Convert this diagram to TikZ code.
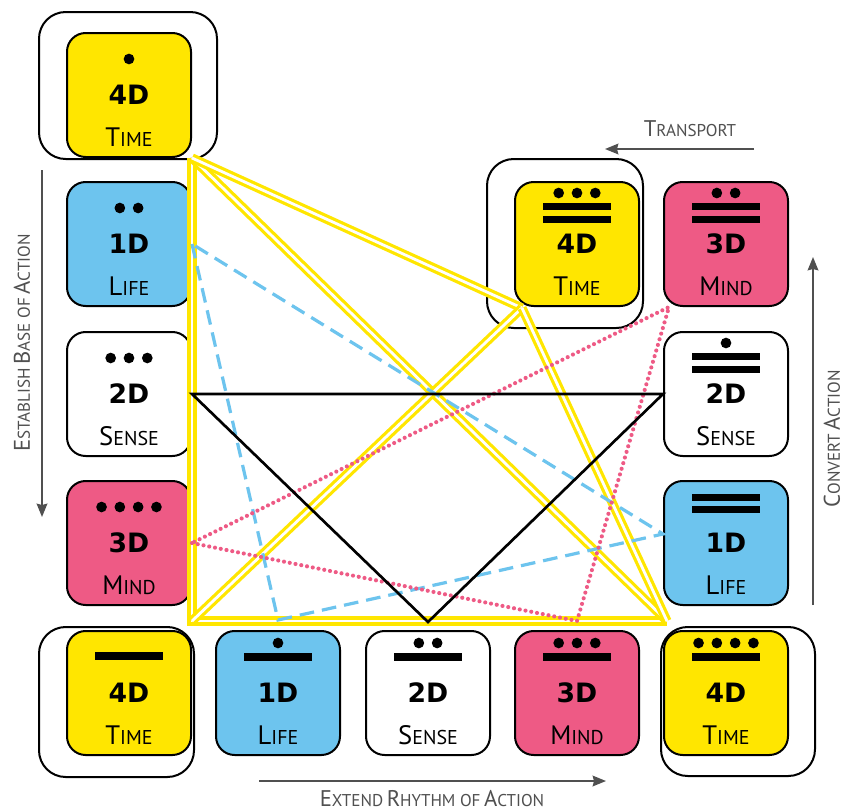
\documentclass[tikz,border=0pt]{standalone}
\usepackage{fontspec}
\setmainfont{PT Sans}
\newfontfamily\dimfont{DejaVu Sans}
\usetikzlibrary{calc,arrows.meta}
\definecolor{yel}{HTML}{FFE600}
\definecolor{blu}{HTML}{6DC4EE}
\definecolor{pnk}{HTML}{EE5A85}
\definecolor{gry}{HTML}{505050}
\newcommand\tsc[2]{{\fontsize{20}{20}\selectfont #1}{\fontsize{15}{15}\selectfont #2}}
\newcommand\asc[2]{{\fontsize{17}{17}\selectfont #1}{\fontsize{12.8}{12.8}\selectfont #2}}
\newcommand\mdots[3]{\foreach \i in {1,...,#2}{\fill ($(#1.north)+({(\i-(#2+1)/2)*18.3},#3)$) circle[radius=4pt];}}
\newcommand\mbar[2]{\fill ($(#1.north)+(-34,#2-3.8)$) rectangle ++(68,7.6);}
\newcommand\tile[7]{%
  \node[tile,fill=#4] (#1) at (#2,#3) {};
  \node[dimtxt] (#1d) at ($(#1.north)+(0,72)$) {#5};
  \node[labtxt] (#1l) at ($(#1.north)+(0,114)$) {\tsc{#6}{#7}};}
\tikzset{
  tile/.style={draw=black, line width=1.5pt, rounded corners=14pt, minimum width=93pt, minimum height=93pt, inner sep=0pt},
  dimtxt/.style={anchor=base, inner sep=0pt, font=\dimfont\bfseries\fontsize{20}{20}\selectfont},
  labtxt/.style={anchor=base, inner sep=0pt},
  frame/.style={draw=black, line width=1.5pt, rounded corners=20pt},
  yline/.style={draw=yel, line width=2.4pt, double=white, double distance=2.1pt},
  bline/.style={draw=blu, line width=2.4pt, dash pattern=on 11pt off 6pt},
  pline/.style={draw=pnk, line width=3.1pt, line cap=round, dash pattern=on 0pt off 4.4pt},
  kline/.style={draw=black, line width=2pt},
  arr/.style={draw=gry, line width=1.3pt, -{Stealth[length=10pt,width=8pt,inset=1pt]}},
  arrtxt/.style={text=gry, inner sep=0pt}
}
\begin{document}
\begin{tikzpicture}[x=0.75pt,y=-0.75pt]
\useasboundingbox (0,0) rectangle (846,811);
\fill[white] (0,0) rectangle (846,811);
% outer frames
\draw[frame] (39,12) rectangle (217,159);
\draw[frame] (39,627) rectangle (194,777);
\draw[frame] (661,627) rectangle (815,776);
\draw[frame] (487,159) rectangle (643,328);
% tiles
\tile{T1}{129}{95}{yel}{4D}{T}{IME}
\tile{L1}{129}{244}{blu}{1D}{L}{IFE}
\tile{L2}{129}{394}{white}{2D}{S}{ENSE}
\tile{L3}{129}{543}{pnk}{3D}{M}{IND}
\tile{B0}{129}{693}{yel}{4D}{T}{IME}
\tile{B1}{278}{693}{blu}{1D}{L}{IFE}
\tile{B2}{428}{693}{white}{2D}{S}{ENSE}
\tile{B3}{577}{693}{pnk}{3D}{M}{IND}
\tile{B4}{726}{693}{yel}{4D}{T}{IME}
\tile{T2}{577}{244}{yel}{4D}{T}{IME}
\tile{R3}{726}{244}{pnk}{3D}{M}{IND}
\tile{R2}{726}{394}{white}{2D}{S}{ENSE}
\tile{R1}{726}{543}{blu}{1D}{L}{IFE}
% symbols
\mdots{T1}{1}{27}
\mdots{L1}{2}{27}
\mdots{L2}{3}{27}
\mdots{L3}{4}{27}
\mbar{B0}{26}
\mdots{B1}{1}{13}\mbar{B1}{27}
\mdots{B2}{2}{13}\mbar{B2}{27}
\mdots{B3}{3}{13}\mbar{B3}{27}
\mdots{B4}{4}{13}\mbar{B4}{27}
\mbar{R1}{17.5}\mbar{R1}{29.5}
\mdots{R2}{1}{12}\mbar{R2}{25.5}\mbar{R2}{38.5}
\mdots{R3}{2}{12}\mbar{R3}{25.5}\mbar{R3}{38.5}
\mdots{T2}{3}{12}\mbar{T2}{25.5}\mbar{T2}{38.5}
% connector end points
\coordinate (Y1) at (T1.south east);
\coordinate (Y0) at ($(T1.south east |- B0.north)+(0,-9)$);
\coordinate (Y4) at ($(B4.north west)+(4,-9)$);
\coordinate (Y2) at ($(T2.south west)+(8,1)$);
\coordinate (Bb) at ($(B1.north)+(0,-10)$);
\coordinate (Br) at ($(R1.west)+(0,-9)$);
\coordinate (Pb) at ($(B3.north)+(0,-9)$);
\coordinate (Pr) at ($(R3.south west)+(6,0)$);
\coordinate (Kb) at ($(B2.north)+(0,-8)$);
% yellow double lines (4D Time)
\draw[yline] (Y1) -- (Y0) -- (Y4);
\draw[yline] (Y1) -- (Y4);
\draw[yline] (Y1) -- (Y2);
\draw[yline] (Y2) -- (Y0);
\draw[yline] (Y2) -- (Y4);
% blue dashed (1D Life)
\draw[bline] (L1.east) -- (Bb) -- (Br) -- cycle;
% pink dotted (3D Mind)
\draw[pline] (L3.east) -- (Pb) -- (Pr) -- cycle;
% black (2D Sense)
\draw[kline, line join=miter] (L2.east) -- (Kb) -- (R2.west) -- cycle;
% arrows and labels
\coordinate (e1) at (42,170); \coordinate (e2) at (42,517);
\draw[arr] (e1) -- (e2);
\node[arrtxt, rotate=90] (et) at (22,343) {\asc{E}{STABLISH} \asc{B}{ASE OF} \asc{A}{CTION}};
\coordinate (t1) at (754,149); \coordinate (t2) at (605,149);
\draw[arr] (t1) -- (t2);
\node[arrtxt, anchor=base] (tt) at (690,136) {\asc{T}{RANSPORT}};
\coordinate (c1) at (813,605); \coordinate (c2) at (813,257);
\draw[arr] (c1) -- (c2);
\node[arrtxt, rotate=90] (ct) at (832,439) {\asc{C}{ONVERT} \asc{A}{CTION}};
\coordinate (x1) at (259,781); \coordinate (x2) at (606,781);
\draw[arr] (x1) -- (x2);
\node[arrtxt, anchor=base] (xt) at (432,806) {\asc{E}{XTEND} \asc{R}{HYTHM OF} \asc{A}{CTION}};
\end{tikzpicture}
\end{document}
